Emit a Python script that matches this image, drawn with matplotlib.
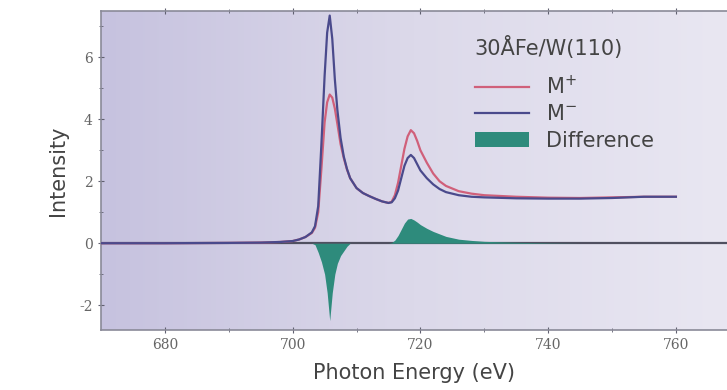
import numpy as np
import matplotlib
matplotlib.use("Agg")
import matplotlib.pyplot as plt
from matplotlib.colors import LinearSegmentedColormap

plt.rcParams["axes.unicode_minus"] = False

# photon energy grid (eV) and curves
energy = [670, 680, 690, 695, 698, 700, 701, 702, 703, 703.5,
          704, 704.5, 705, 705.4, 705.8, 706.2, 706.6, 707, 707.5, 708,
          708.5, 709, 710, 711, 712, 713, 714, 715, 715.5, 716,
          716.5, 717, 717.5, 718, 718.5, 719, 719.5, 720, 721, 722,
          723, 724, 726, 728, 730, 735, 740, 745, 750, 755, 760]
m_minus = [0, 0, 0.01, 0.02, 0.04, 0.07, 0.12, 0.2, 0.35, 0.55,
           1.2, 3.2, 5.4, 6.8, 7.35, 6.6, 5.3, 4.3, 3.4, 2.8,
           2.4, 2.1, 1.78, 1.62, 1.52, 1.43, 1.35, 1.3, 1.32, 1.45,
           1.7, 2.1, 2.5, 2.75, 2.85, 2.75, 2.55, 2.35, 2.1, 1.9,
           1.75, 1.65, 1.55, 1.5, 1.48, 1.45, 1.44, 1.44, 1.46, 1.5, 1.5]
m_plus = [0, 0, 0.01, 0.02, 0.04, 0.07, 0.12, 0.2, 0.33, 0.5,
          1.0, 2.4, 3.9, 4.55, 4.8, 4.7, 4.35, 3.85, 3.2, 2.75,
          2.38, 2.1, 1.78, 1.62, 1.52, 1.43, 1.35, 1.3, 1.34, 1.55,
          1.95, 2.5, 3.05, 3.45, 3.65, 3.55, 3.3, 3.0, 2.6, 2.25,
          2.0, 1.85, 1.68, 1.6, 1.55, 1.5, 1.47, 1.46, 1.48, 1.5, 1.5]
difference = [0, 0, 0, 0, 0, 0, 0, 0, 0, -0.05,
              -0.3, -0.6, -1.0, -1.6, -2.5, -1.6, -1.0, -0.65, -0.4, -0.25,
              -0.1, 0, 0, 0, 0, 0, 0, 0, 0.02, 0.1,
              0.25, 0.45, 0.65, 0.78, 0.8, 0.75, 0.68, 0.6, 0.48, 0.38,
              0.3, 0.22, 0.13, 0.09, 0.06, 0.03, 0.01, 0, 0, 0, 0]

x_ticks = [680, 700, 720, 740, 760]
y_ticks = [-2, 0, 2, 4, 6]

fig = plt.figure(figsize=(7.27, 3.9), dpi=100)
ax = fig.add_axes([0.139, 0.154, 0.861, 0.818])

# lavender background gradient
cmap = LinearSegmentedColormap.from_list("bg", ["#c6c2df", "#dcd9ea", "#e9e7f2"])
grad = np.linspace(0, 1, 256).reshape(1, -1)
ax.imshow(grad, cmap=cmap, aspect="auto", extent=[0, 1, 0, 1],
          transform=ax.transAxes, zorder=0)

ax.axhline(0, color="#505060", lw=1.6, zorder=2)
ax.fill_between(energy, difference, 0, color="#2e8b7c", lw=0, zorder=3,
                label="Difference")
ax.plot(energy, m_plus, color="#d0607a", lw=1.6, zorder=4, label="M$^{+}$")
ax.plot(energy, m_minus, color="#4a4a8c", lw=1.6, zorder=5, label="M$^{-}$")

ax.set_xlim(670, 768)
ax.set_ylim(-2.8, 7.5)
ax.set_xticks(x_ticks)
ax.set_yticks(y_ticks)
ax.set_xticks(np.arange(690, 770, 20), minor=True)
ax.set_yticks([-1, 1, 3, 5, 7], minor=True)
ax.tick_params(which="both", direction="inout", color="#606070",
               top=True, labelsize=10, labelcolor="#666666")
ax.tick_params(which="major", length=5)
ax.tick_params(which="minor", length=3)
for lab in ax.get_xticklabels() + ax.get_yticklabels():
    lab.set_family("DejaVu Serif")

for s in ["left", "bottom", "top"]:
    ax.spines[s].set_color("#8a8a98")
    ax.spines[s].set_linewidth(1.2)
ax.spines["right"].set_visible(False)

ax.set_xlabel("Photon Energy (eV)", fontsize=15, color="#444444", labelpad=8)
ax.set_ylabel("Intensity", fontsize=15, color="#444444", labelpad=8)

ax.text(0.597, 0.884, "30ÅFe/W(110)", transform=ax.transAxes, fontsize=15,
        color="#444444", va="center", ha="left", zorder=6)

handles, labels = ax.get_legend_handles_labels()
order = [1, 2, 0]
leg = ax.legend([handles[i] for i in order], [labels[i] for i in order],
                loc="upper left", bbox_to_anchor=(0.597, 0.80),
                borderpad=0, borderaxespad=0, frameon=False,
                fontsize=15, handlelength=2.6, handletextpad=0.8,
                labelspacing=0.3)
for t in leg.get_texts():
    t.set_color("#444444")

fig.savefig("out.png", dpi=100)
